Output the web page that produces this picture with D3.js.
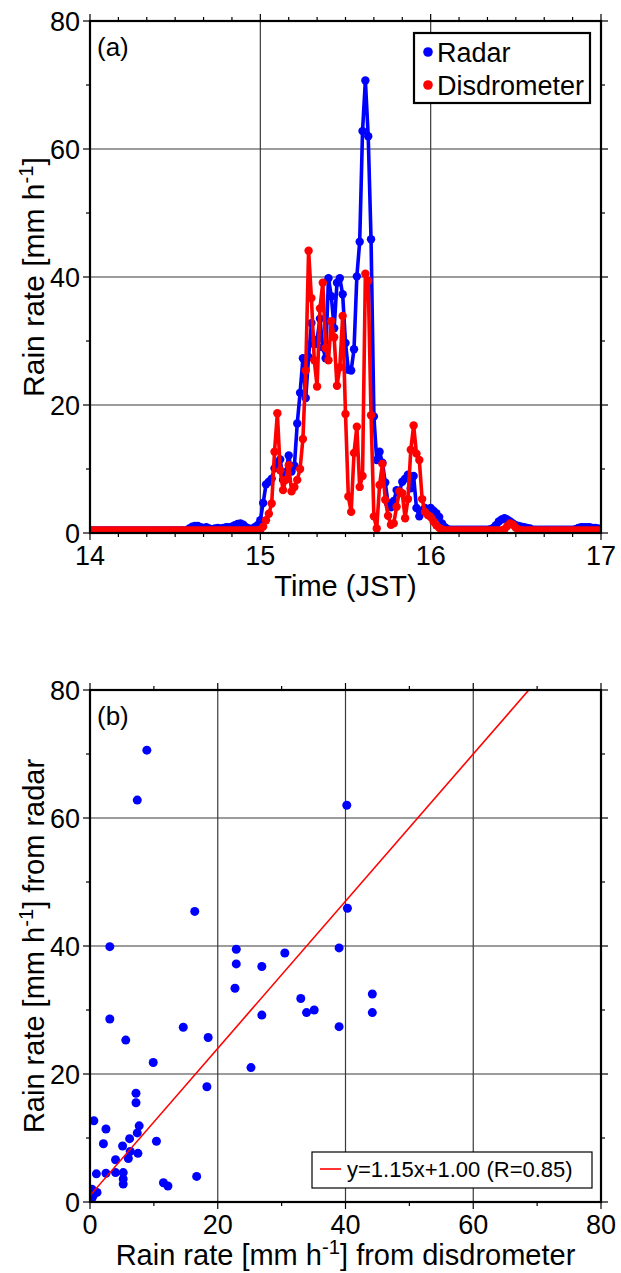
<!DOCTYPE html>
<html>
<head>
<meta charset="utf-8">
<script src="https://cdn.jsdelivr.net/npm/d3@7"></script>
<style>
  html, body { margin: 0; padding: 0; background: #fff; }
  svg { display: block; font-family: "Liberation Sans", Arial, Helvetica, sans-serif; }
</style>
</head>
<body>
<svg id="chart" width="621" height="1273"></svg>
<script>
// ---- Time series: one-minute samples from 14:00 to 17:00 JST ----
const startHour = 14;
const stepMinutes = 1;

// Radar-derived rain rate [mm/h]
const radarRate = [
  0.4,0.4,0.4,0.4,0.4,0.4,0.4,0.4,0.4,0.4,
  0.4,0.4,0.4,0.4,0.4,0.4,0.4,0.4,0.4,0.4,
  0.4,0.4,0.4,0.4,0.4,0.4,0.4,0.4,0.4,0.4,
  0.4,0.4,0.4,0.4,0.4,0.7,1.0,1.1,1.1,0.9,
  0.8,0.9,0.7,0.6,0.7,0.8,0.7,0.8,0.9,0.9,
  1.0,1.2,1.4,1.5,1.3,0.9,0.7,0.6,0.9,1.2,
  2.0,4.7,7.6,8.0,8.5,10.1,11.0,11.5,8.3,9.5,
  12.1,9.6,10.5,17.1,21.9,27.3,21.1,27.5,32.8,29.5,
  30.2,33.5,29.0,27.3,39.8,37.0,32.0,39.1,39.8,37.3,
  29.7,25.5,25.4,28.7,40.1,45.5,62.8,70.7,62.0,45.9,
  18.2,11.4,12.7,11.0,7.9,4.6,4.0,5.0,6.7,6.5,
  8.0,8.5,9.1,7.0,8.9,3.9,2.6,3.5,3.9,3.6,
  3.9,3.5,3.1,2.5,1.5,0.9,0.6,0.5,0.5,0.5,
  0.5,0.5,0.5,0.5,0.5,0.5,0.5,0.5,0.5,0.5,
  0.5,0.6,0.8,1.2,1.8,2.1,2.3,2.1,1.8,1.5,
  1.2,1.1,1.0,0.9,0.8,0.7,0.5,0.5,0.5,0.5,
  0.5,0.5,0.5,0.5,0.5,0.5,0.5,0.5,0.5,0.5,
  0.5,0.6,0.8,0.9,0.9,0.9,0.9,0.8,0.8,0.7,
  0.6
];

// Disdrometer-derived rain rate [mm/h]
const disdrometerRate = [
  0.4,0.4,0.4,0.4,0.4,0.4,0.4,0.4,0.4,0.4,
  0.4,0.4,0.4,0.4,0.4,0.4,0.4,0.4,0.4,0.4,
  0.4,0.4,0.4,0.4,0.4,0.4,0.4,0.4,0.4,0.4,
  0.4,0.4,0.4,0.4,0.4,0.4,0.4,0.4,0.4,0.4,
  0.4,0.4,0.4,0.4,0.4,0.4,0.4,0.4,0.4,0.4,
  0.4,0.4,0.4,0.4,0.4,0.4,0.4,0.4,0.4,0.4,
  0.5,1.0,2.0,3.0,4.6,12.7,18.7,9.8,6.7,8.3,
  10.6,6.5,7.2,8.3,10.0,14.7,25.4,44.1,36.7,27.0,
  22.9,35.1,39.1,28.9,27.0,33.1,30.6,23.0,25.9,33.9,
  18.6,5.7,3.3,12.5,16.6,7.2,8.9,40.5,39.4,18.4,
  2.6,0.7,7.5,10.8,5.2,2.7,1.3,1.5,4.1,6.5,
  6.2,2.3,5.3,13.0,16.8,12.4,11.4,5.3,3.3,2.8,
  2.5,1.8,1.2,0.8,0.5,0.4,0.4,0.4,0.4,0.4,
  0.4,0.4,0.4,0.4,0.4,0.4,0.4,0.4,0.4,0.4,
  0.4,0.4,0.4,0.4,0.4,0.4,0.6,1.1,1.5,1.3,
  0.8,0.5,0.4,0.4,0.4,0.4,0.4,0.4,0.4,0.4,
  0.4,0.4,0.4,0.4,0.4,0.4,0.4,0.4,0.4,0.4,
  0.4,0.4,0.4,0.4,0.4,0.4,0.4,0.4,0.4,0.4,
  0.4
];

// ---- Scatter: paired rain rates [mm/h] ----
const scatterDisdrometer = [
  8.9, 7.4, 40.2, 16.4, 40.3, 3.1, 22.9, 22.9, 30.5, 26.9,
  39.0, 44.2, 33.0, 22.7, 26.9, 33.9, 35.1, 44.2, 39.0, 3.1,
  14.6, 5.6, 18.5, 9.9, 25.2, 18.3, 7.2, 7.2, 0.6, 2.5,
  7.7, 7.4, 6.2, 10.4, 2.1, 5.1, 6.3, 7.5, 6.0, 4.0,
  1.0, 2.5, 4.0, 5.2, 5.2, 5.2, 11.5, 12.2, 16.7, 0.3,
  1.1, 0.5, 0.3, 0.2
];
const scatterRadar = [
  70.6, 62.8, 62.0, 45.4, 45.9, 39.9, 39.5, 37.2, 38.9, 36.8,
  39.7, 32.5, 31.8, 33.4, 29.2, 29.6, 30.0, 29.6, 27.4, 28.6,
  27.3, 25.3, 25.7, 21.8, 21.0, 18.0, 17.0, 15.5, 12.7, 11.4,
  11.9, 10.8, 9.9, 9.5, 9.1, 8.75, 7.9, 7.6, 6.8, 6.6,
  4.4, 4.5, 4.6, 4.6, 3.6, 2.8, 3.0, 2.5, 4.0, 2.0,
  1.5, 1.0, 0.6, 1.8
];

// Linear fit shown in panel (b)
const fitSlope = 1.15;
const fitIntercept = 1.00;
const fitR = 0.85;

// Axis tick values
const timeTicks = [14, 15, 16, 17];
const rateTicks = [0, 20, 40, 60, 80];

// ---- Drawing ----
const svg = d3.select("#chart");
const BLUE = "#0000ff", RED = "#ff0000";
const FONT = 27;        // tick labels, legend (a)
const TITLE = 29;       // axis titles

const A = { left: 90, right: 601, top: 21, bottom: 533 };
const B = { left: 90, right: 601, top: 690, bottom: 1202 };

function grid(g, P, xScale, yScale, xMajor, yMajor) {
  const gridColor = "#3a3a3a";
  g.append("g").selectAll("line").data(xMajor.slice(1, -1)).join("line")
    .attr("x1", d => xScale(d)).attr("x2", d => xScale(d))
    .attr("y1", P.top).attr("y2", P.bottom)
    .attr("stroke", gridColor).attr("stroke-width", 1.2);
  g.append("g").selectAll("line").data(yMajor.slice(1, -1)).join("line")
    .attr("y1", d => yScale(d)).attr("y2", d => yScale(d))
    .attr("x1", P.left).attr("x2", P.right)
    .attr("stroke", gridColor).attr("stroke-width", 1.2);
}

function ticksAndBorder(g, P, xScale, yScale, xMajor, xMinor, yMajor, yMinor) {
  const major = 7, minor = 4;
  const tk = g.append("g").attr("stroke", "#000").attr("stroke-width", 1.2);
  xMajor.forEach(v => {
    const x = xScale(v);
    tk.append("line").attr("x1", x).attr("x2", x).attr("y1", P.bottom).attr("y2", P.bottom + major);
    tk.append("line").attr("x1", x).attr("x2", x).attr("y1", P.top).attr("y2", P.top - major);
  });
  xMinor.forEach(v => {
    const x = xScale(v);
    tk.append("line").attr("x1", x).attr("x2", x).attr("y1", P.bottom).attr("y2", P.bottom + minor);
    tk.append("line").attr("x1", x).attr("x2", x).attr("y1", P.top).attr("y2", P.top - minor);
  });
  yMajor.forEach(v => {
    const y = yScale(v);
    tk.append("line").attr("y1", y).attr("y2", y).attr("x1", P.left).attr("x2", P.left - major);
    tk.append("line").attr("y1", y).attr("y2", y).attr("x1", P.right).attr("x2", P.right + major);
  });
  yMinor.forEach(v => {
    const y = yScale(v);
    tk.append("line").attr("y1", y).attr("y2", y).attr("x1", P.left).attr("x2", P.left - minor);
    tk.append("line").attr("y1", y).attr("y2", y).attr("x1", P.right).attr("x2", P.right + minor);
  });
  g.append("rect").attr("x", P.left).attr("y", P.top)
    .attr("width", P.right - P.left).attr("height", P.bottom - P.top)
    .attr("fill", "none").attr("stroke", "#000").attr("stroke-width", 2.2);
}

function tickLabels(g, P, xScale, yScale, xMajor, yMajor) {
  g.append("g").selectAll("text").data(xMajor).join("text")
    .attr("x", d => xScale(d)).attr("y", P.bottom + 32)
    .attr("text-anchor", "middle").attr("font-size", FONT).text(d => d);
  g.append("g").selectAll("text").data(yMajor).join("text")
    .attr("x", P.left - 10).attr("y", d => yScale(d) + 10)
    .attr("text-anchor", "end").attr("font-size", FONT).text(d => d);
}

function rateLabel(sel, suffix) {
  sel.append("tspan").text("Rain rate [mm h");
  sel.append("tspan").attr("baseline-shift", "super").attr("font-size", TITLE * 0.7).text("-1");
  sel.append("tspan").text("]" + suffix);
}

// ===== Panel (a): time series =====
const ga = svg.append("g");
const xA = d3.scaleLinear().domain([14, 17]).range([A.left, A.right]);
const yA = d3.scaleLinear().domain([0, 80]).range([A.bottom, A.top]);
const xMinorA = d3.range(14, 17.0001, 1 / 6).filter(v => Math.abs(v - Math.round(v)) > 1e-6);
const yMinorA = [10, 30, 50, 70];

grid(ga, A, xA, yA, timeTicks, rateTicks);

const toHour = i => startHour + i * stepMinutes / 60;
const seriesA = [
  { name: "Radar", color: BLUE, values: radarRate },
  { name: "Disdrometer", color: RED, values: disdrometerRate }
];
svg.append("clipPath").attr("id", "clipA").append("rect")
  .attr("x", A.left).attr("y", A.top).attr("width", A.right - A.left).attr("height", A.bottom - A.top);

const line = d3.line().x((d, i) => xA(toHour(i))).y(d => yA(d));
seriesA.forEach(s => {
  const gs = ga.append("g").attr("clip-path", "url(#clipA)");
  gs.append("path").datum(s.values).attr("d", line)
    .attr("fill", "none").attr("stroke", s.color).attr("stroke-width", 3.6)
    .attr("stroke-linejoin", "round");
  gs.selectAll("circle").data(s.values).join("circle")
    .attr("cx", (d, i) => xA(toHour(i))).attr("cy", d => yA(d))
    .attr("r", 4.2).attr("fill", s.color);
});

ticksAndBorder(ga, A, xA, yA, timeTicks, xMinorA, rateTicks, yMinorA);
tickLabels(ga, A, xA, yA, timeTicks, rateTicks);

ga.append("text").attr("x", 97).attr("y", 56).attr("font-size", 26).text("(a)");
ga.append("text").attr("x", (A.left + A.right) / 2).attr("y", A.bottom + 63)
  .attr("text-anchor", "middle").attr("font-size", TITLE).text("Time (JST)");
ga.append("text")
  .attr("transform", `translate(44,${(A.top + A.bottom) / 2}) rotate(-90)`)
  .attr("text-anchor", "middle").attr("font-size", 30)
  .call(rateLabel, "");

// legend (a)
const legA = ga.append("g");
legA.append("rect").attr("x", 414).attr("y", 33).attr("width", 176).attr("height", 70)
  .attr("fill", "#fff").attr("stroke", "#000").attr("stroke-width", 2.2);
seriesA.forEach((s, i) => {
  const cy = 52 + i * 33;
  legA.append("circle").attr("cx", 428).attr("cy", cy).attr("r", 4.8).attr("fill", s.color);
  legA.append("text").attr("x", 437).attr("y", cy + 10).attr("font-size", FONT).text(s.name);
});

// ===== Panel (b): scatter =====
const gb = svg.append("g");
const xB = d3.scaleLinear().domain([0, 80]).range([B.left, B.right]);
const yB = d3.scaleLinear().domain([0, 80]).range([B.bottom, B.top]);
const minorB = [10, 30, 50, 70];

grid(gb, B, xB, yB, rateTicks, rateTicks);

svg.append("clipPath").attr("id", "clipB").append("rect")
  .attr("x", B.left).attr("y", B.top).attr("width", B.right - B.left).attr("height", B.bottom - B.top);

const pts = scatterDisdrometer.map((d, i) => ({ d, r: scatterRadar[i] }));
gb.append("g").attr("clip-path", "url(#clipB)").selectAll("circle").data(pts).join("circle")
  .attr("cx", p => xB(p.d)).attr("cy", p => yB(p.r)).attr("r", 4.5).attr("fill", BLUE);

const xFitEnd = (80 - fitIntercept) / fitSlope;
gb.append("line").attr("clip-path", "url(#clipB)")
  .attr("x1", xB(0)).attr("y1", yB(fitIntercept))
  .attr("x2", xB(xFitEnd)).attr("y2", yB(80))
  .attr("stroke", RED).attr("stroke-width", 1.6);

ticksAndBorder(gb, B, xB, yB, rateTicks, minorB, rateTicks, minorB);
tickLabels(gb, B, xB, yB, rateTicks, rateTicks);

gb.append("text").attr("x", 97).attr("y", 725).attr("font-size", 26).text("(b)");
gb.append("text").attr("x", (B.left + B.right) / 2).attr("y", B.bottom + 63)
  .attr("text-anchor", "middle").attr("font-size", TITLE)
  .call(rateLabel, " from disdrometer");
gb.append("text")
  .attr("transform", `translate(44,${(B.top + B.bottom) / 2}) rotate(-90)`)
  .attr("text-anchor", "middle").attr("font-size", TITLE)
  .call(rateLabel, " from radar");

// legend (b)
const legB = gb.append("g");
legB.append("rect").attr("x", 312).attr("y", 1152).attr("width", 280).attr("height", 36)
  .attr("fill", "#fff").attr("stroke", "#000").attr("stroke-width", 1.2);
legB.append("line").attr("x1", 320).attr("x2", 341).attr("y1", 1169).attr("y2", 1169)
  .attr("stroke", RED).attr("stroke-width", 1.6);
legB.append("text").attr("x", 347).attr("y", 1177).attr("font-size", 22)
  .text(`y=${fitSlope.toFixed(2)}x+${fitIntercept.toFixed(2)} (R=${fitR.toFixed(2)})`);
</script>
</body>
</html>
